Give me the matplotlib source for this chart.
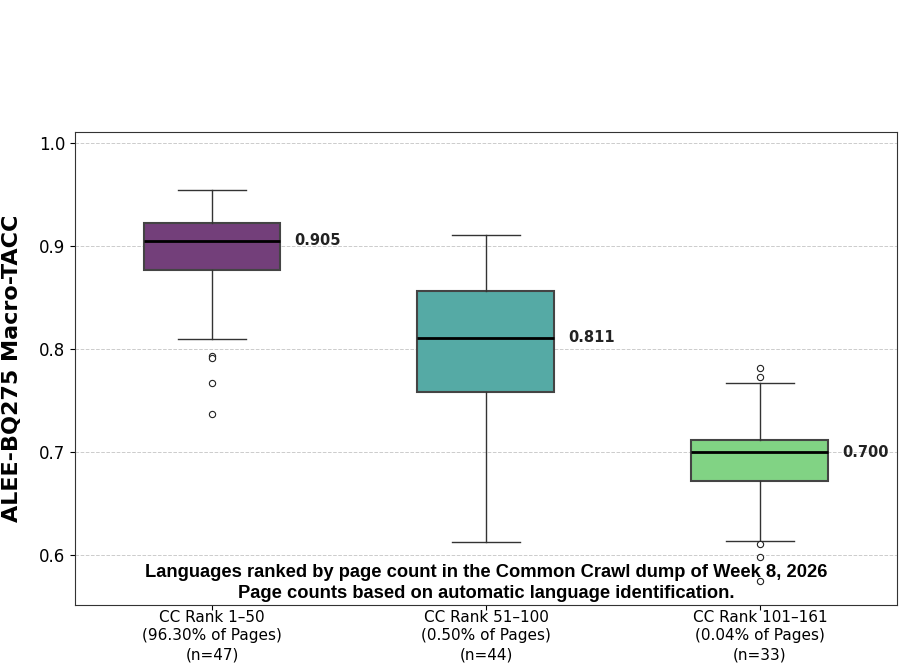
import numpy as np
import matplotlib.pyplot as plt

# box stats
groups = ["CC Rank 1\u201350\n(96.30% of Pages)\n(n=47)",
          "CC Rank 51\u2013100\n(0.50% of Pages)\n(n=44)",
          "CC Rank 101\u2013161\n(0.04% of Pages)\n(n=33)"]
medians = [0.905, 0.811, 0.700]
q1 = [0.877, 0.758, 0.672]
q3 = [0.922, 0.856, 0.712]
whis_lo = [0.810, 0.613, 0.614]
whis_hi = [0.954, 0.911, 0.767]
fliers = [[0.793, 0.791, 0.767, 0.737],
          [],
          [0.782, 0.773, 0.611, 0.598, 0.575]]
colors = ["#733f7a", "#55aaa5", "#81d384"]

fig = plt.figure(figsize=(9.04, 6.66), dpi=100)
ax = fig.add_axes([75/904, 1-605/666, 822/904, 473/666])

stats = []
for i in range(3):
    stats.append(dict(med=medians[i], q1=q1[i], q3=q3[i],
                      whislo=whis_lo[i], whishi=whis_hi[i], fliers=fliers[i]))

pos = np.arange(3)
bp = ax.bxp(stats, positions=pos, widths=0.5, patch_artist=True,
            boxprops=dict(edgecolor="#444444", linewidth=1.5),
            medianprops=dict(color="black", linewidth=2),
            whiskerprops=dict(color="#333333", linewidth=1),
            capprops=dict(color="#333333", linewidth=1),
            flierprops=dict(marker="o", markersize=4.5, markerfacecolor="white",
                            markeredgecolor="#222222", markeredgewidth=0.8))
for patch, c in zip(bp["boxes"], colors):
    patch.set_facecolor(c)

for i in range(3):
    ax.text(pos[i] + 0.3, medians[i], f"{medians[i]:.3f}", ha="left", va="center",
            fontsize=10.5, fontweight="bold", color="#222222")

ax.set_xlim(-0.5, 2.5)
ax.set_ylim(0.5515, 1.0107)
ax.set_yticks([0.6, 0.7, 0.8, 0.9, 1.0])
ax.tick_params(axis="y", labelsize=12)
ax.tick_params(axis="x", pad=0)
ax.set_xticks(pos)
ax.set_xticklabels(groups, fontsize=11, linespacing=1.3)
ax.yaxis.grid(True, linestyle="--", color="#cccccc", linewidth=0.7)
ax.set_axisbelow(True)
for s in ax.spines.values():
    s.set_color("#333333")

ax.set_ylabel("ALEE-BQ275 Macro-TACC", fontsize=16, fontweight="bold", labelpad=12)

ax.text(0.5, 0.006, "Languages ranked by page count in the Common Crawl dump of Week 8, 2026\n"
        "Page counts based on automatic language identification.",
        transform=ax.transAxes, ha="center", va="bottom", fontsize=13.2,
        fontweight="bold", family="Liberation Sans", linespacing=1.3)

fig.savefig("out.png", dpi=100)
